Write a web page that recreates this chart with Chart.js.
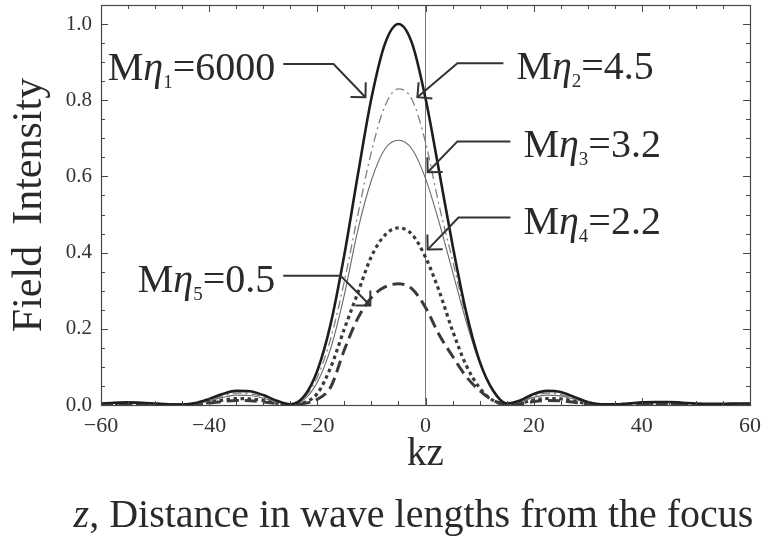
<!DOCTYPE html>
<html>
<head>
<meta charset="utf-8">
<script src="https://cdn.jsdelivr.net/npm/chart.js@4.4.0/dist/chart.umd.min.js"></script>
<style>
  html, body { margin: 0; padding: 0; background: #fff; }
  #wrap { width: 764px; height: 545px; }
</style>
</head>
<body>
<div id="wrap"><canvas id="fieldChart" width="764" height="545"></canvas></div>
<script>
// kz positions (wave lengths from the focus)
const kz = [-60, -57.5, -55, -52.5, -50, -47.5, -45, -42.5, -40, -37.5, -35, -32.5, -30, -27.5, -25,
  -22.5, -20, -17.5, -15, -12.5, -10, -7.5, -5, -2.5, 0, 2.5, 5, 7.5, 10, 12.5, 15,
  17.5, 20, 22.5, 25, 27.5, 30, 32.5, 35, 37.5, 40, 42.5, 45, 47.5, 50, 52.5, 55, 57.5, 60];

// field intensity for each M*eta
const eta1 = [0.004, 0.006, 0.007, 0.006, 0.004, 0.002, 0.001, 0.005, 0.016, 0.029, 0.037, 0.036, 0.026, 0.011, 0.002,
  0.022, 0.090, 0.215, 0.395, 0.605, 0.805, 0.948, 1.000, 0.950, 0.805, 0.615, 0.420, 0.245, 0.115, 0.038, 0.004,
  0.012, 0.029, 0.037, 0.034, 0.021, 0.008, 0.002, 0.002, 0.004, 0.007, 0.008, 0.008, 0.006, 0.004, 0.003, 0.003, 0.004, 0.004];
const eta2 = [0.003, 0.005, 0.006, 0.005, 0.003, 0.002, 0.001, 0.004, 0.013, 0.024, 0.031, 0.030, 0.021, 0.009, 0.002,
  0.018, 0.073, 0.176, 0.325, 0.500, 0.665, 0.785, 0.830, 0.802, 0.690, 0.525, 0.380, 0.232, 0.113, 0.036, 0.003,
  0.010, 0.024, 0.031, 0.028, 0.017, 0.007, 0.002, 0.002, 0.003, 0.006, 0.007, 0.007, 0.005, 0.003, 0.002, 0.002, 0.003, 0.003];
const eta3 = [0.003, 0.004, 0.005, 0.004, 0.003, 0.001, 0.001, 0.003, 0.011, 0.020, 0.026, 0.025, 0.018, 0.008, 0.001,
  0.014, 0.060, 0.150, 0.290, 0.460, 0.590, 0.672, 0.695, 0.672, 0.595, 0.480, 0.350, 0.220, 0.110, 0.035, 0.003,
  0.008, 0.020, 0.026, 0.024, 0.015, 0.006, 0.001, 0.001, 0.003, 0.005, 0.006, 0.006, 0.004, 0.003, 0.002, 0.002, 0.003, 0.003];
const eta4 = [0.002, 0.003, 0.004, 0.003, 0.002, 0.001, 0.001, 0.002, 0.007, 0.013, 0.017, 0.016, 0.012, 0.005, 0.001,
  0.006, 0.030, 0.100, 0.200, 0.295, 0.390, 0.446, 0.465, 0.448, 0.388, 0.300, 0.195, 0.105, 0.045, 0.012, 0.002,
  0.005, 0.013, 0.017, 0.016, 0.010, 0.004, 0.001, 0.001, 0.002, 0.003, 0.004, 0.004, 0.003, 0.002, 0.001, 0.001, 0.002, 0.002];
const eta5 = [0.001, 0.002, 0.003, 0.002, 0.001, 0.001, 0.000, 0.002, 0.005, 0.009, 0.012, 0.011, 0.008, 0.004, 0.001,
  0.004, 0.015, 0.048, 0.145, 0.228, 0.282, 0.310, 0.318, 0.305, 0.256, 0.185, 0.128, 0.075, 0.038, 0.012, 0.002,
  0.003, 0.009, 0.012, 0.011, 0.007, 0.003, 0.001, 0.001, 0.001, 0.002, 0.003, 0.003, 0.002, 0.001, 0.001, 0.001, 0.001, 0.001];

const etaSubs = ['1', '2', '3', '4', '5'];
const etaValues = ['6000', '4.5', '3.2', '2.2', '0.5'];

// frame tick marks
const xMajorTicks = [-60, -40, -20, 0, 20, 40, 60];
const xMinorTicks = [-60, -55, -50, -45, -40, -35, -30, -25, -20, -15, -10, -5, 0, 5, 10, 15, 20, 25, 30, 35, 40, 45, 50, 55, 60];
const yMajorTicks = [0, 0.2, 0.4, 0.6, 0.8, 1.0];
const yMinorTicks = [0, 0.05, 0.1, 0.15, 0.2, 0.25, 0.3, 0.35, 0.4, 0.45, 0.5, 0.55, 0.6, 0.65, 0.7, 0.75, 0.8, 0.85, 0.9, 0.95, 1.0];

// callout lines: label side, start of leader, elbow, arrow tip (data units)
const callouts = [
  { side: 'left',  start: [-26.3, 0.895], elbow: [-17.0, 0.895], tip: [-11.1, 0.808] },
  { side: 'right', start: [14.4, 0.897],  elbow: [5.9, 0.897],   tip: [-1.5, 0.808] },
  { side: 'right', start: [15.7, 0.692],  elbow: [5.9, 0.692],   tip: [0.4, 0.611] },
  { side: 'right', start: [15.7, 0.492],  elbow: [6.1, 0.492],   tip: [0.4, 0.408] },
  { side: 'left',  start: [-26.3, 0.339], elbow: [-15.7, 0.339], tip: [-10.2, 0.261] }
];

const SERIF = '"Liberation Serif", "Times New Roman", serif';

function toPoints(ys) {
  return kz.map((x, i) => ({ x: x, y: ys[i] }));
}

const frameTicks = {
  id: 'frameTicks',
  afterDatasetsDraw(chart) {
    const { ctx, chartArea: a, scales: { x, y } } = chart;
    ctx.save();
    ctx.strokeStyle = '#474747';
    ctx.lineWidth = 1.2;
    ctx.strokeRect(a.left + 0.5, a.top + 0.5, a.right - a.left, a.bottom - a.top);
    ctx.lineWidth = 1;
    ctx.beginPath();
    xMinorTicks.forEach(v => {
      const px = Math.round(x.getPixelForValue(v)) + 0.5;
      const len = xMajorTicks.includes(v) ? 7 : 4;
      ctx.moveTo(px, a.bottom); ctx.lineTo(px, a.bottom - len);
      ctx.moveTo(px, a.top); ctx.lineTo(px, a.top + len);
    });
    yMinorTicks.forEach(v => {
      const py = Math.round(y.getPixelForValue(v)) + 0.5;
      const len = yMajorTicks.some(m => Math.abs(m - v) < 1e-9) ? 7 : 4;
      ctx.moveTo(a.left, py); ctx.lineTo(a.left + len, py);
      ctx.moveTo(a.right, py); ctx.lineTo(a.right - len, py);
    });
    ctx.stroke();
    ctx.restore();
  }
};

function drawEtaLabel(ctx, x, baseline, sub, value, side) {
  const pieces = [
    { t: 'M', f: '40px ' + SERIF, dy: 0 },
    { t: '\u03B7', f: 'italic 40px ' + SERIF, dy: 0 },
    { t: sub, f: '19px ' + SERIF, dy: 8 },
    { t: '=' + value, f: '40px ' + SERIF, dy: 0 }
  ];
  let total = 0;
  pieces.forEach(p => { ctx.font = p.f; p.w = ctx.measureText(p.t).width; total += p.w; });
  let cx = side === 'left' ? x - total : x;
  ctx.textAlign = 'left';
  ctx.textBaseline = 'alphabetic';
  pieces.forEach(p => {
    ctx.font = p.f;
    ctx.fillText(p.t, cx, baseline + p.dy);
    cx += p.w;
  });
}

const calloutLabels = {
  id: 'calloutLabels',
  afterDraw(chart) {
    const { ctx, scales: { x, y } } = chart;
    ctx.save();
    ctx.strokeStyle = '#333';
    ctx.fillStyle = '#2a2a2a';
    ctx.lineWidth = 2;
    ctx.lineJoin = 'miter';
    callouts.forEach((c, i) => {
      const sx = x.getPixelForValue(c.start[0]), sy = y.getPixelForValue(c.start[1]);
      const ex = x.getPixelForValue(c.elbow[0]), ey = y.getPixelForValue(c.elbow[1]);
      const tx = x.getPixelForValue(c.tip[0]), ty = y.getPixelForValue(c.tip[1]);
      ctx.beginPath();
      ctx.moveTo(sx, sy); ctx.lineTo(ex, ey); ctx.lineTo(tx, ty);
      ctx.stroke();
      // open arrow head, barbs at 45 degrees to the shaft
      const ang = Math.atan2(ty - ey, tx - ex);
      const len = 15;
      ctx.beginPath();
      ctx.moveTo(tx - len * Math.cos(ang - Math.PI / 4), ty - len * Math.sin(ang - Math.PI / 4));
      ctx.lineTo(tx, ty);
      ctx.lineTo(tx - len * Math.cos(ang + Math.PI / 4), ty - len * Math.sin(ang + Math.PI / 4));
      ctx.stroke();
      const lx = c.side === 'left' ? sx - 8 : sx + 13;
      drawEtaLabel(ctx, lx, sy + 16, etaSubs[i], etaValues[i], c.side);
    });

    // second line of the x axis caption
    const head = 'z', rest = ', Distance in wave lengths from the focus';
    ctx.font = 'italic 40px ' + SERIF;
    const w1 = ctx.measureText(head).width;
    ctx.font = '40px ' + SERIF;
    const w2 = ctx.measureText(rest).width;
    const cxm = (chart.chartArea.left + chart.chartArea.right) / 2 - 12;
    let px = cxm - (w1 + w2) / 2;
    ctx.textAlign = 'left';
    ctx.textBaseline = 'alphabetic';
    ctx.font = 'italic 40px ' + SERIF;
    ctx.fillText(head, px, 527);
    ctx.font = '40px ' + SERIF;
    ctx.fillText(rest, px + w1, 527);
    ctx.restore();
  }
};

new Chart(document.getElementById('fieldChart'), {
  type: 'line',
  data: {
    datasets: [
      { label: 'M\u03B71=6000', data: toPoints(eta1), borderColor: '#1e1e1e', borderWidth: 2.6 },
      { label: 'M\u03B72=4.5', data: toPoints(eta2), borderColor: '#808080', borderWidth: 1.3, borderDash: [9, 4, 2, 4] },
      { label: 'M\u03B73=3.2', data: toPoints(eta3), borderColor: '#6a6a6a', borderWidth: 1.1 },
      { label: 'M\u03B74=2.2', data: toPoints(eta4), borderColor: '#3a3a3a', borderWidth: 3.2, borderDash: [3.5, 3.5] },
      { label: 'M\u03B75=0.5', data: toPoints(eta5), borderColor: '#3a3a3a', borderWidth: 3, borderDash: [12, 6] }
    ]
  },
  options: {
    responsive: false,
    animation: false,
    devicePixelRatio: 1,
    layout: { padding: { top: 5, right: 14, left: 0, bottom: 0 } },
    elements: {
      point: { radius: 0 },
      line: { cubicInterpolationMode: 'monotone', fill: false }
    },
    plugins: {
      legend: { display: false },
      tooltip: { enabled: false }
    },
    scales: {
      x: {
        type: 'linear',
        min: -60,
        max: 60,
        afterFit(scale) {
          scale.height = 140;
          scale.paddingLeft = 0;
          scale.paddingRight = 0;
        },
        border: { display: false },
        grid: {
          drawTicks: false,
          lineWidth: 1,
          color: ctx => (ctx.tick && ctx.tick.value === 0 ? '#7a7a7a' : 'rgba(0,0,0,0)')
        },
        ticks: {
          stepSize: 20,
          padding: 8,
          color: '#333',
          font: { family: SERIF, size: 22 },
          callback: v => String(v).replace('-', '\u2212')
        },
        title: {
          display: true,
          text: 'kz',
          color: '#2a2a2a',
          font: { family: SERIF, size: 39 },
          padding: { top: 0, bottom: 67 }
        }
      },
      y: {
        min: 0,
        max: 1.05,
        afterFit(scale) {
          scale.width = 101;
          scale.paddingTop = 0;
          scale.paddingBottom = 0;
        },
        border: { display: false },
        grid: { display: false, drawTicks: false },
        ticks: {
          stepSize: 0.2,
          includeBounds: false,
          padding: 9,
          color: '#333',
          font: { family: SERIF, size: 21 },
          callback: v => v.toFixed(1)
        },
        title: {
          display: true,
          text: 'Field  Intensity',
          color: '#2a2a2a',
          font: { family: SERIF, size: 42 },
          padding: { top: 5, bottom: 0 }
        }
      }
    }
  },
  plugins: [frameTicks, calloutLabels]
});
</script>
</body>
</html>
